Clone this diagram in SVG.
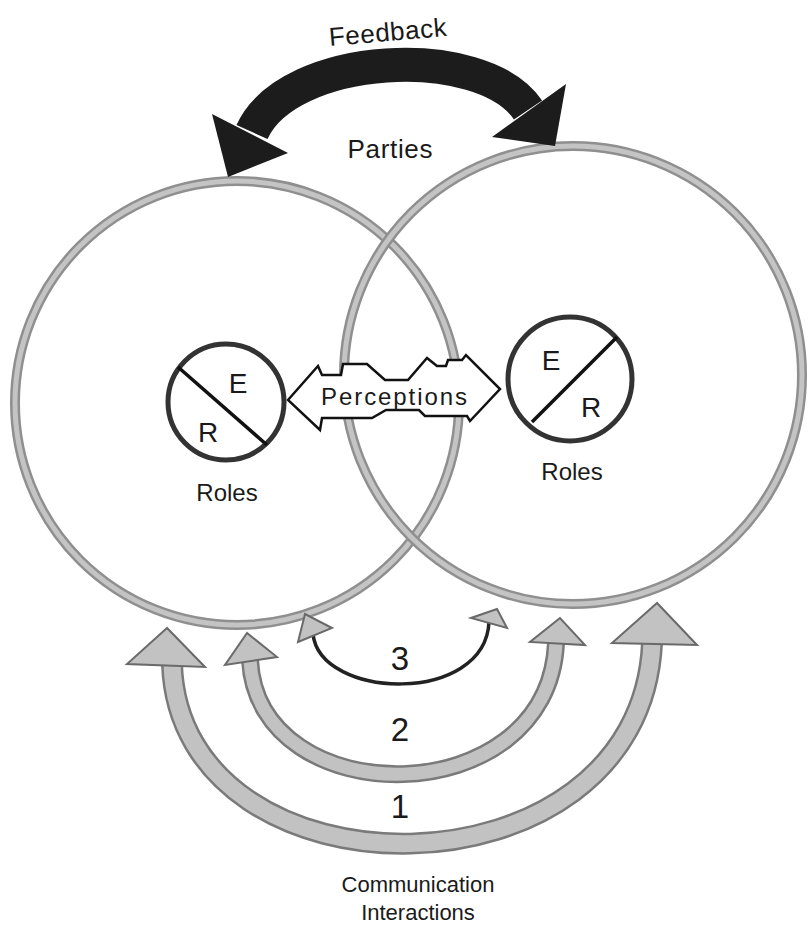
<svg xmlns="http://www.w3.org/2000/svg" width="808" height="937" viewBox="0 0 808 937">
<style>
text{font-family:"Liberation Sans",Arial,sans-serif;fill:#1a1a1a}
.big{fill:none;stroke:#8f8f8f;stroke-width:10}
.bigin{fill:none;stroke:#c4c4c4;stroke-width:5}
.role{fill:none;stroke:#333;stroke-width:5}
.lbl{font-size:24px}
.er{font-size:28px}
.num{font-size:33px}
.bandout{fill:none;stroke:#7a7a7a}
.bandin{fill:none;stroke:#c2c2c2}
.ghead{fill:#c2c2c2;stroke:#6a6a6a;stroke-width:2;stroke-linejoin:miter}
</style>
<rect width="808" height="937" fill="#fff"/>

<g id="party-left">
<circle class="big" cx="237" cy="403" r="222"/>
<circle class="bigin" cx="237" cy="403" r="222"/>
</g>
<g id="party-right">
<circle class="big" cx="573" cy="375" r="229"/>
<circle class="bigin" cx="573" cy="375" r="229"/>
</g>

<g id="roles-left">
<circle class="role" cx="226" cy="402" r="58"/>
<line x1="178" y1="367" x2="267" y2="445" stroke="#111" stroke-width="3.5"/>
<text class="er" x="238" y="393" text-anchor="middle">E</text>
<text class="er" x="208" y="442" text-anchor="middle">R</text>
<text class="lbl" x="227" y="501" text-anchor="middle">Roles</text>
</g>
<g id="roles-right">
<circle class="role" cx="570" cy="379" r="62"/>
<line x1="617" y1="337" x2="532" y2="422" stroke="#111" stroke-width="3.5"/>
<text class="er" x="551" y="370" text-anchor="middle">E</text>
<text class="er" x="591" y="417" text-anchor="middle">R</text>
<text class="lbl" x="572" y="480" text-anchor="middle">Roles</text>
</g>

<g id="labels">
<text style="font-size:26px" x="388" y="41" text-anchor="middle" textLength="118" transform="rotate(-5 388 36)">Feedback</text>
<text style="font-size:26px" x="390" y="158" text-anchor="middle" textLength="85">Parties</text>
<text class="num" x="400" y="670" text-anchor="middle">3</text>
<text class="num" x="400" y="741" text-anchor="middle">2</text>
<text class="num" x="400" y="818" text-anchor="middle">1</text>
<text style="font-size:22px" x="418" y="892" text-anchor="middle">Communication</text>
<text style="font-size:22px" x="418" y="920" text-anchor="middle">Interactions</text>
</g>

<g id="connectors">
<g id="feedback">
<path d="M252,132 C288,52 482,42 528,110" fill="none" stroke="#1c1c1c" stroke-width="34"/>
<polygon points="228,177 212,114 288,153" fill="#1c1c1c"/>
<polygon points="555,146 566,84 492,137" fill="#1c1c1c"/>
</g>
<g id="perceptions">
<path d="M288,400 L318,366 L322,375 L341,375 L343,364 L367,364 L385,380 L408,380 L427,358 L437,366 L446,366 L448,360 L462,360 L466,355 L500,389 L470,421 L467,416 L425,416 L419,410 L386,410 L372,418 L322,418 L320,430 Z" fill="#fff" stroke="#111" stroke-width="2.5" stroke-linejoin="miter"/>
<text class="lbl" x="394" y="405" text-anchor="middle" textLength="146">Perceptions</text>
</g>
<g id="interaction-1">
<path class="bandout" stroke-width="22" d="M172,664 C180,907 640,907 652,643"/>
<path class="bandin" stroke-width="17" d="M172,664 C180,907 640,907 652,643"/>
<polygon class="ghead" points="167,628 127,664 205,667"/>
<polygon class="ghead" points="657,603 612,643 697,645"/>
</g>
<g id="interaction-2">
<path class="bandout" stroke-width="18" d="M250,660 C258,815 548,815 556,643"/>
<path class="bandin" stroke-width="13" d="M250,660 C258,815 548,815 556,643"/>
<polygon class="ghead" points="247,633 225,665 277,657"/>
<polygon class="ghead" points="560,618 530,642 585,645"/>
</g>
<g id="interaction-3">
<path d="M313,634 C320,700 485,705 489,622" fill="none" stroke="#222" stroke-width="3.5"/>
<polygon class="ghead" points="305,614 298,642 332,628"/>
<polygon class="ghead" points="497,609 471,618 507,628"/>
</g>
</g>
</svg>
